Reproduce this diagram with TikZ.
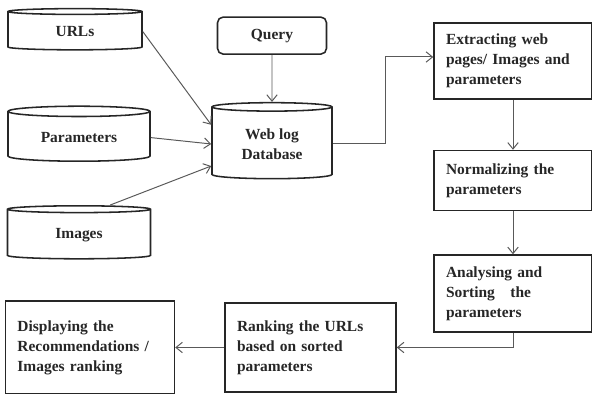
\documentclass[tikz,border=0pt]{standalone}
\usepackage{fontspec}
\setmainfont{Liberation Serif}
\usetikzlibrary{arrows, arrows.meta, shapes, positioning}

\begin{document}
\begin{tikzpicture}[node distance=1.2cm,
    every node/.style={font=\fontsize{11}{14.2}\selectfont\bfseries, text=black!85},
    store/.style={cylinder, shape border rotate=90, aspect=0.12, draw=black!85, line width=1.1pt},
    procbox/.style={draw=black!85, line width=1.1pt, align=left, inner xsep=0.3cm},
    link/.style={-{Straight Barb[length=1.6mm, width=2.6mm]}, draw=black!65, line width=0.7pt}]
  \useasboundingbox (0,0) rectangle (14.8,9.85);

  % sources and the web log
  \node (urls) [store, minimum width=3.35cm, minimum height=1.03cm] at (1.875,9.06) {URLs};
  \node (params) [store, minimum width=3.55cm, minimum height=1.375cm] at (1.975,6.41) {Parameters};
  \node (images) [store, minimum width=3.575cm, minimum height=1.325cm] at (1.975,3.975) {Images};
  \node (query) [draw=black!85, line width=1.1pt, rounded corners=4pt,
    minimum width=2.725cm, minimum height=0.925cm] at (6.8,8.96) {Query};
  \node (weblog) [store, align=center, minimum width=3cm, minimum height=1.9cm] at (6.8,6.25)
    {Web log\\Database};

  % processing steps
  \node (extract) [procbox, text width=3.35cm, minimum height=1.9cm] at (12.825,8.325)
    {Extracting web\\pages/ Images and\\parameters};
  \node (normal) [procbox, text width=3.35cm, minimum height=1.5cm, below=1.25cm of extract]
    {Normalizing the\\parameters};
  \node (analyse) [procbox, text width=3.35cm, minimum height=1.925cm, below=1.075cm of normal]
    {Analysing and\\Sorting~~ the\\parameters};
  \node (rank) [procbox, text width=3.675cm, minimum height=2.225cm] at (7.7625,1.1625)
    {Ranking the URLs\\based on sorted\\parameters};
  \node (display) [procbox, text width=3.625cm, minimum height=2.325cm, left=1.225cm of rank]
    {Displaying the\\Recommendations /\\Images ranking};

  \draw [link] (urls.east) -- ([yshift=0.48cm]weblog.west);
  \draw [link] (params.east) -- (weblog.west);
  \draw [link] ([xshift=0.78cm]images.north) -- ([yshift=-0.55cm]weblog.west);
  \draw [link] (query) -- (weblog);
  \draw [link] (weblog.east) -- ++(1.325,0) |- ([yshift=0.1cm]extract.west);
  \draw [link] (extract) -- (normal);
  \draw [link] (normal) -- (analyse);
  \draw [link] (analyse.south) |- (rank.east);
  \draw [link] (rank) -- (display);
\end{tikzpicture}
\end{document}
